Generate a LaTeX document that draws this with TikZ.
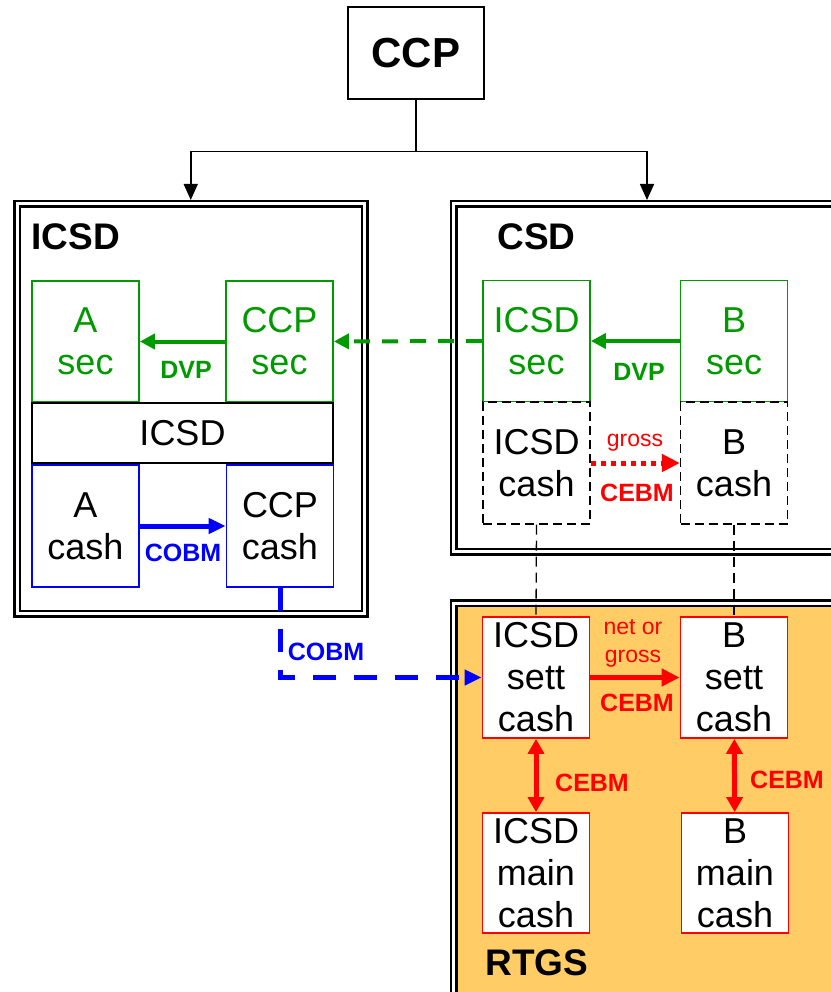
\documentclass[tikz,border=0pt]{standalone}
\usepackage{fontspec}
\setmainfont{Liberation Sans}
\usetikzlibrary{arrows.meta}
\definecolor{secgreen}{RGB}{0,153,0}
\definecolor{rtgsorange}{RGB}{255,204,102}
\newcommand{\boxtext}{\fontsize{36}{42}\selectfont}
\newcommand{\tagtext}{\fontsize{25}{28}\selectfont\bfseries}
\newcommand{\smalltext}{\fontsize{23}{28}\selectfont}
\newcommand{\headtext}{\fontsize{37}{40}\selectfont\bfseries}
\begin{document}
\begin{tikzpicture}[x=1pt, y=-1pt,
    box/.style={rectangle, draw, line width=1.8pt, minimum width=107pt, minimum height=121pt, inner sep=0pt, align=center, font=\boxtext},
    frame/.style={rectangle, draw, line width=2.5pt, double, double distance=3pt, inner sep=0pt, outer sep=4pt},
    tag/.style={font=\tagtext}]
  \useasboundingbox (0,0) rectangle (830,992);

  % frames
  \node[frame, minimum width=347.5pt, minimum height=409.5pt] (icsdframe) at (190.75,408.75) {};
  \node[frame, minimum width=387pt, minimum height=347.5pt] (csdframe) at (647,377.75) {};
  \node[frame, fill=rtgsorange, minimum width=387pt, minimum height=397pt] (rtgsframe) at (647,801.5) {};

  \node[anchor=base west, font=\headtext] (icsdhead) at (28,250) {ICSD};
  \node[anchor=base west, font=\headtext] (csdhead) at (494,250) {CSD};
  \node[anchor=base west, font=\headtext] (rtgshead) at (482,975) {RTGS};

  % CCP on top
  \node[rectangle, draw, line width=1.5pt, minimum width=136pt, minimum height=92pt, font=\fontsize{42}{44}\selectfont\bfseries] (ccp) at (416,53) {CCP};
  \draw[line width=1.5pt, -{Triangle[length=16pt,width=14pt]}] (ccp.south) -- ++(0,52) -| (icsdframe.north);
  \draw[line width=1.5pt, -{Triangle[length=16pt,width=14pt]}] (ccp.south) -- ++(0,52) -| (csdframe.north);

  % ICSD accounts
  \node[box, draw=secgreen, text=secgreen] (asec) at (85.5,341.5) {A\\sec};
  \node[box, draw=secgreen, text=secgreen] (ccpsec) at (279.5,341.5) {CCP\\sec};
  \node[box, minimum width=301pt, minimum height=60pt] (icsdmid) at (182.5,433) {ICSD};
  \node[box, draw=blue, minimum height=122pt] (acash) at (85.5,526) {A\\cash};
  \node[box, draw=blue, minimum height=122pt] (ccpcash) at (280,526) {CCP\\cash};

  % CSD accounts
  \node[box, draw=secgreen, text=secgreen] (icsdsec) at (536.5,341) {ICSD\\sec};
  \node[box, draw=secgreen, text=secgreen] (bsec) at (734,341) {B\\sec};
  \node[box, line width=1.3pt, dash pattern=on 9pt off 5pt, minimum height=122pt] (icsdcash) at (536.5,463) {ICSD\\cash};
  \node[box, line width=1.3pt, dash pattern=on 9pt off 5pt, minimum height=122pt] (bcash) at (734,463) {B\\cash};

  % RTGS accounts
  \node[box, draw=red, fill=white] (icsdsett) at (536,677.5) {ICSD\\sett\\cash};
  \node[box, draw=red, fill=white] (bsett) at (734,677.5) {B\\sett\\cash};
  \node[box, draw=red, fill=white, minimum height=120pt] (icsdmain) at (536,873) {ICSD\\main\\cash};
  \node[box, draw=red, fill=white, minimum height=120pt] (bmain) at (735,873) {B\\main\\cash};

  % links
  \draw[line width=1.3pt, dash pattern=on 10pt off 6pt] (icsdcash.south) -- (icsdsett.north);
  \draw[line width=1.3pt, dash pattern=on 10pt off 6pt] (bcash.south) -- (bsett.north);

  \draw[secgreen, line width=4pt, -{Triangle[length=15pt,width=15pt]}] (ccpsec) -- (asec);
  \draw[secgreen, line width=4pt, -{Triangle[length=15pt,width=15pt]}] (bsec) -- (icsdsec);
  \draw[secgreen, line width=4pt, dash pattern=on 16pt off 12pt, -{Triangle[length=15pt,width=15pt]}] (icsdsec) -- (ccpsec);
  \draw[blue, line width=5pt, -{Triangle[length=17pt,width=15pt]}] (acash) -- (ccpcash);
  \draw[blue, line width=5pt, dash pattern=on 23pt off 18pt, -{Triangle[length=17pt,width=15pt]}] (ccpcash.south) |- (icsdsett.west);
  \draw[red, line width=5pt, dash pattern=on 5pt off 5pt, -{Triangle[length=18pt,width=17pt]}] (icsdcash) -- (bcash);
  \draw[red, line width=5pt, -{Triangle[length=18pt,width=17pt]}] (icsdsett) -- (bsett);
  \draw[red, line width=5pt, {Triangle[length=15pt,width=16pt]}-{Triangle[length=15pt,width=16pt]}] (icsdsett) -- (icsdmain);
  \draw[red, line width=5pt, {Triangle[length=15pt,width=16pt]}-{Triangle[length=15pt,width=16pt]}] (bsett) -- (bmain);

  % labels
  \node[tag, text=secgreen] (dvpa) at (186,370) {DVP};
  \node[tag, text=secgreen] (dvpb) at (639,372) {DVP};
  \node[tag, text=blue] (cobma) at (183,553) {COBM};
  \node[tag, text=blue] (cobmb) at (326,652) {COBM};
  \node[text=red, font=\smalltext] (grossa) at (635,443) {gross};
  \node[tag, text=red] (cebma) at (637,493) {CEBM};
  \node[text=red, font=\smalltext, align=center, inner sep=0pt] (netgross) at (633,643) {net or\\gross};
  \node[tag, text=red] (cebmb) at (637,703) {CEBM};
  \node[tag, text=red] (cebmc) at (592,783) {CEBM};
  \node[tag, text=red] (cebmd) at (787,780) {CEBM};
\end{tikzpicture}
\end{document}
